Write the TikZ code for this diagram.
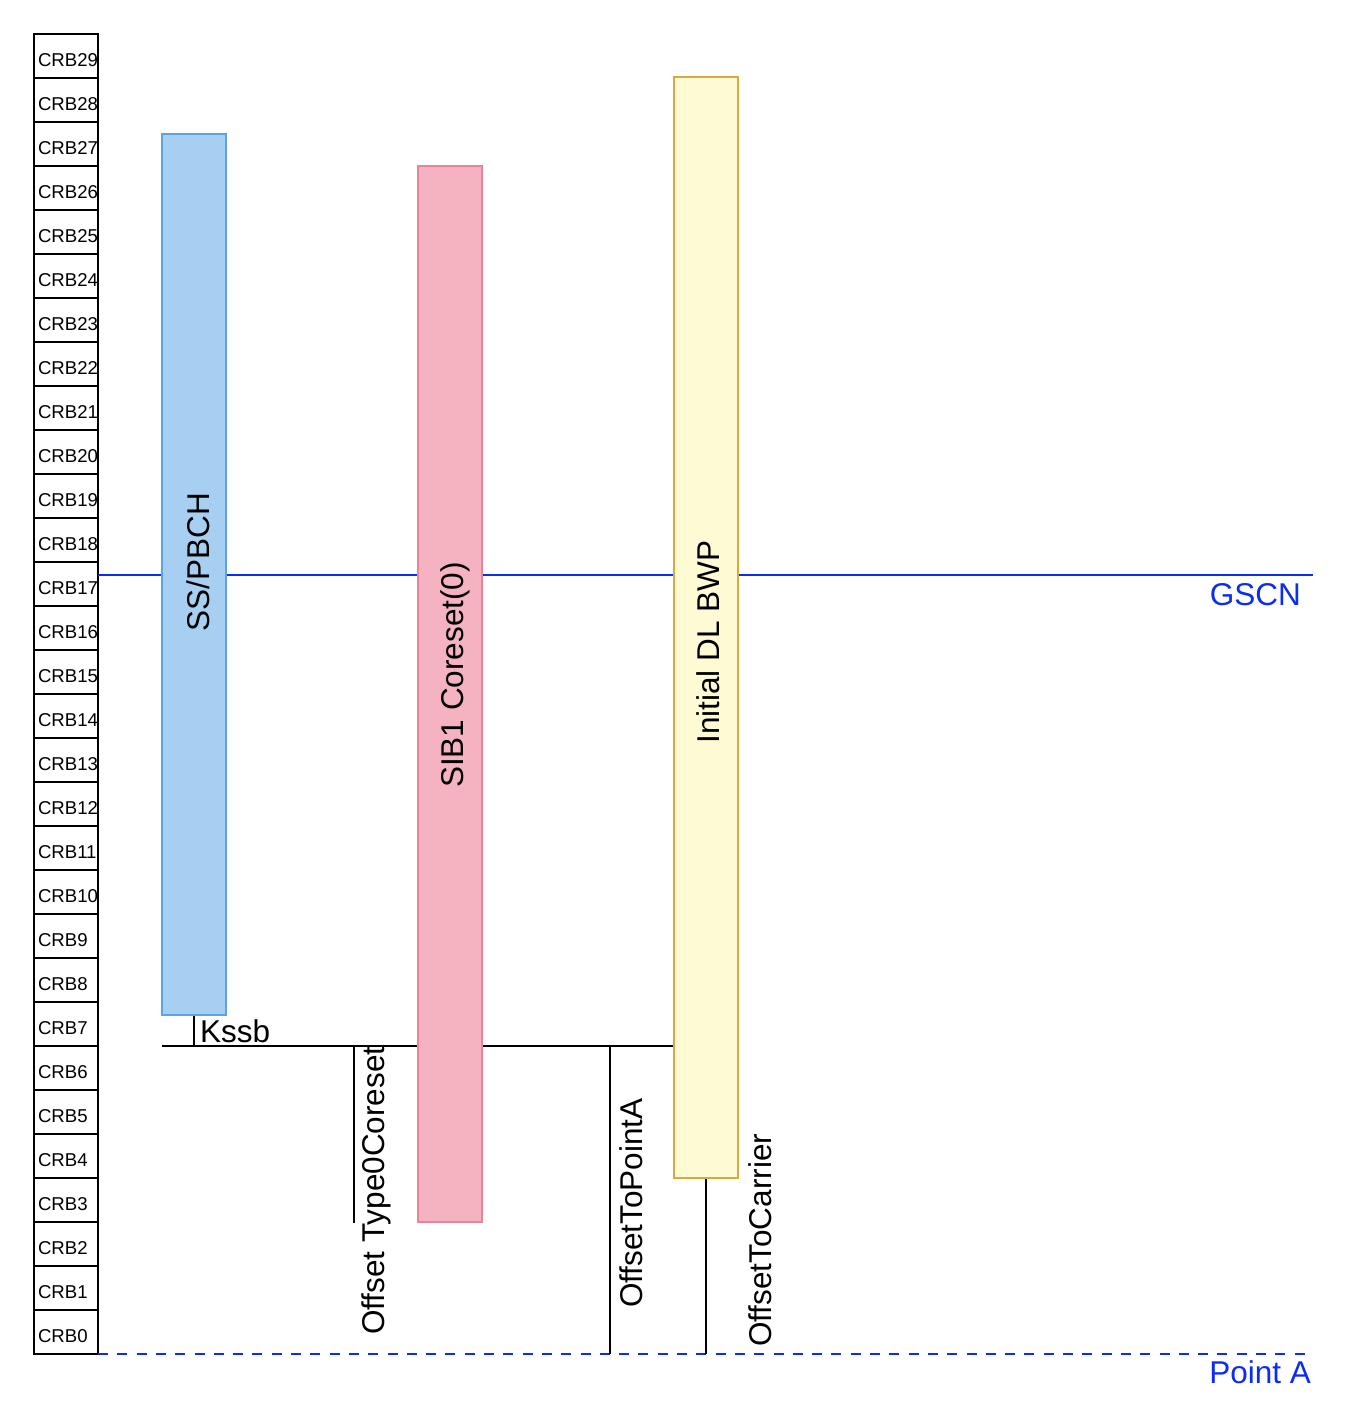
\documentclass[tikz,border=0pt]{standalone}
\usepackage{fontspec}
\setmainfont{Liberation Sans}
\usepackage{tikz}
\usetikzlibrary{positioning,calc}
\definecolor{gscnblue}{HTML}{0A2CF5}
\definecolor{ssbfill}{HTML}{A6CFF1}
\definecolor{ssbdraw}{HTML}{5AA3E8}
\definecolor{corefill}{HTML}{F5B3C1}
\definecolor{coredraw}{HTML}{EC8299}
\definecolor{bwpfill}{HTML}{FEFAD4}
\definecolor{bwpdraw}{HTML}{D7A93F}
\tikzset{
  every picture/.style={line cap=butt, line join=miter},
  crbcell/.style={draw, line width=2pt, minimum width=64, minimum height=44,
    inner sep=0pt, text width=56pt, align=left, text height=24pt, text depth=3pt,
    font=\fontsize{18.6}{20}\selectfont},
  bigfont/.style={font=\fontsize{31.5}{36}\selectfont},
  band/.style={line width=2pt, minimum width=64, inner sep=0pt},
  ssbbox/.style={band, draw=ssbdraw, fill=ssbfill, minimum height=881},
  corebox/.style={band, draw=coredraw, fill=corefill, minimum height=1056},
  bwpbox/.style={band, draw=bwpdraw, fill=bwpfill, minimum height=1101},
  bandlbl/.style={bigfont, rotate=90, anchor=base, inner sep=0pt},
  offlbl/.style={bigfont, rotate=90, anchor=base west, inner sep=0pt},
  refline/.style={black, line width=2pt},
  gscnline/.style={gscnblue, line width=2pt},
  pointaline/.style={gscnblue, line width=2pt, dash pattern=on 10pt off 9.3pt},
  bluelbl/.style={bigfont, text=gscnblue, inner sep=0pt},
}
\begin{document}
\begin{tikzpicture}[x=1pt, y=-1pt]
\useasboundingbox (0,0) rectangle (1366,1410);
% CRB column
\foreach \i in {0,...,29}
  \node[crbcell] (crb\i) at (66, {1332-44*\i}) {CRB\i};
% GSCN and Point A
\coordinate (gscnstart) at (98,575);
\coordinate (gscnend) at (1313,575);
\coordinate (pointa) at (98,1354);
\coordinate (pointaend) at (1310,1354);
\draw[gscnline] (gscnstart) -- (gscnend);
\draw[pointaline] (pointa) -- (pointaend);
\node[bluelbl, anchor=base east] (gscnlbl) at (1301,605) {GSCN};
\node[bluelbl, anchor=base east] (pointalbl) at (1311,1383) {Point A};
% reference line at CRB6/7
\coordinate (kssbfoot) at (194,1046);
\coordinate (t0top) at (354,1046);
\coordinate (ptatop) at (610,1046);
\draw[refline] (162,1046) -- (674,1046);
% bands
\node[ssbbox] (ssb) at (194,574.5) {};
\node[corebox] (coreset) at (450,694) {};
\node[bwpbox] (bwp) at (706,627.5) {};
\node[bandlbl] (ssblbl) at (209,562) {SS/PBCH};
\node[bandlbl] (corelbl) at (463,675) {SIB1 Coreset(0)};
\node[bandlbl] (bwplbl) at (719,642) {Initial DL BWP};
% offsets
\draw[refline] (ssb.south) -- (kssbfoot);
\node[bigfont, anchor=base west, inner sep=0pt] (kssblbl) at (200,1042) {Kssb};
\draw[refline] (t0top) -- (t0top |- coreset.south);
\node[offlbl] (t0lbl) at (384,1335) {Offset Type0Coreset};
\draw[refline] (ptatop) -- (ptatop |- pointa);
\node[offlbl] (ptalbl) at (642,1308) {OffsetToPointA};
\draw[refline] (bwp.south) -- (bwp.south |- pointa);
\node[offlbl] (carrlbl) at (771,1347) {OffsetToCarrier};
\end{tikzpicture}
\end{document}
